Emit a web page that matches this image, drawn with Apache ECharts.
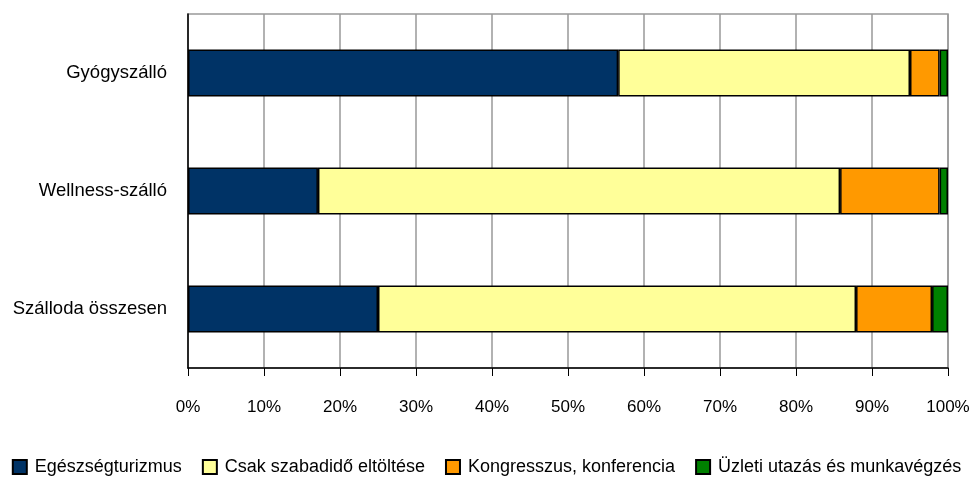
<!DOCTYPE html>
<html>
<head>
<meta charset="utf-8">
<script src="https://cdn.jsdelivr.net/npm/echarts@6/dist/echarts.min.js"></script>
<style>html,body{margin:0;padding:0;background:#fff;}#c{width:973px;height:478px;}</style>
</head>
<body>
<div id="c"></div>
<script>
const categories = ['Gyógyszálló', 'Wellness-szálló', 'Szálloda összesen'];
const seriesNames = ['Egészségturizmus', 'Csak szabadidő eltöltése', 'Kongresszus, konferencia', 'Üzleti utazás és munkavégzés'];
const egeszseg = [56.6, 17.1, 25.0];
const szabadido = [38.4, 68.7, 62.9];
const kongresszus = [3.9, 13.1, 10.0];
const uzleti = [1.1, 1.1, 2.1];
const colors = ['#003366', '#ffff99', '#ff9900', '#008000'];
const values = [egeszseg, szabadido, kongresszus, uzleti];

const chart = echarts.init(document.getElementById('c'));
const font = '"Liberation Sans", Arial, sans-serif';
chart.setOption({
  animation: false,
  textStyle: {fontFamily: font},
  grid: {left: 188, right: 25, top: 14, bottom: 110, show: true, borderColor: '#999', borderWidth: 1.5, containLabel: false, outerBoundsMode: 'none'},
  xAxis: {
    type: 'value', min: 0, max: 100, interval: 10,
    axisLabel: {formatter: '{value}%', color: '#000', fontSize: 17, margin: 31, fontFamily: font},
    axisLine: {show: true, lineStyle: {color: '#000', width: 1.5}},
    axisTick: {show: true, length: 8, lineStyle: {color: '#000', width: 1}},
    splitLine: {show: true, lineStyle: {color: '#999', width: 1.5}}
  },
  yAxis: {
    type: 'category', inverse: true, data: categories,
    axisLabel: {color: '#000', fontSize: 18.5, margin: 21, fontFamily: font, padding: [3, 0, 0, 0]},
    axisLine: {show: true, lineStyle: {color: '#000', width: 1.5}},
    axisTick: {show: false}
  },
  legend: {
    top: 453, left: 'center', icon: 'rect', itemWidth: 14, itemHeight: 14, itemGap: 20,
    textStyle: {fontSize: 18, color: '#000', fontFamily: font, padding: [0, 0, 0, 3]},
    data: seriesNames
  },
  series: seriesNames.map((n, i) => ({
    name: n, type: 'bar', stack: 'all', barWidth: '40%',
    data: values[i],
    itemStyle: {color: colors[i], borderColor: '#000', borderWidth: 1.5}
  }))
});
</script>
</body>
</html>
